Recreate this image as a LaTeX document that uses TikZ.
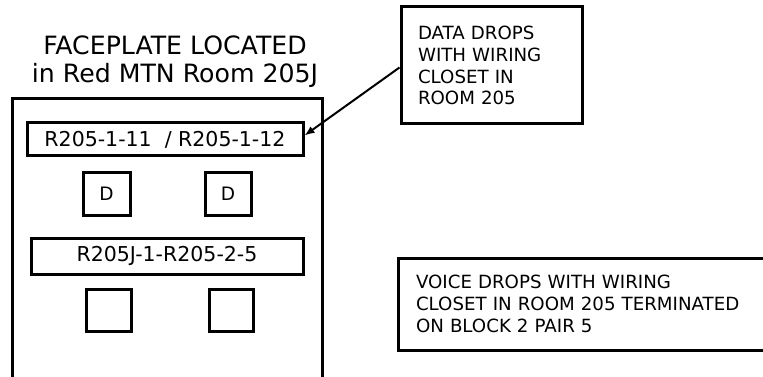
\documentclass[tikz,border=0pt]{standalone}
\usepackage{fontspec}
\setmainfont{DejaVu Sans}
\usetikzlibrary{arrows.meta}
\begin{document}
\begin{tikzpicture}[x=1pt,y=-1pt,
  box/.style={draw,line width=3pt,rectangle,inner sep=0pt},
  lbl/.style={box,font=\fontsize{20.5}{24}\selectfont},
  jack/.style={box,font=\fontsize{18.5}{22}\selectfont},
  note/.style={box,align=left,font=\fontsize{18.2}{21.8}\selectfont},
  ttl/.style={anchor=base,inner sep=0pt,font=\fontsize{25.2}{28}\selectfont},
  conn/.style={line width=2pt,-{Latex[length=10pt,width=8pt]}}]
\useasboundingbox (0,0) rectangle (763,377);
\clip (0,0) rectangle (763,377);
% titles
\node[ttl] (t1) at (175,55) {FACEPLATE LOCATED};
\node[ttl] (t2) at (175,83) {in Red MTN Room 205J};
% faceplate
\node[box,minimum width=310pt,minimum height=321pt] (plate) at (167,259.5) {};
\node[lbl,minimum width=276pt,minimum height=33pt] (lab1) at (165,139.5) {R205-1-11\ \ / R205-1-12};
\node[jack,minimum width=47pt,minimum height=43pt] (d1) at (106.5,193.5) {D};
\node[jack,minimum width=46pt,minimum height=43pt] (d2) at (228,193.5) {D};
\node[lbl,minimum width=272pt,minimum height=36pt] (lab2) at (167,256) {R205J-1-R205-2-5};
\node[jack,minimum width=45pt,minimum height=42pt] (v1) at (108.5,310) {};
\node[jack,minimum width=44pt,minimum height=42pt] (v2) at (231,310) {};
% notes
\node[note,text width=147pt,minimum width=181pt,minimum height=117pt] (data) at (491.5,65.5)
  {DATA DROPS\\WITH WIRING\\CLOSET IN\\ROOM 205};
\node[note,text width=341pt,minimum width=377pt,minimum height=92pt] (voice) at (586.5,304)
  {VOICE DROPS WITH WIRING\\CLOSET IN ROOM 205 TERMINATED\\ON BLOCK 2 PAIR 5};
% connector
\draw[conn] ([yshift=-2pt]data.west) -- ([yshift=4pt]lab1.east);
\end{tikzpicture}
\end{document}
